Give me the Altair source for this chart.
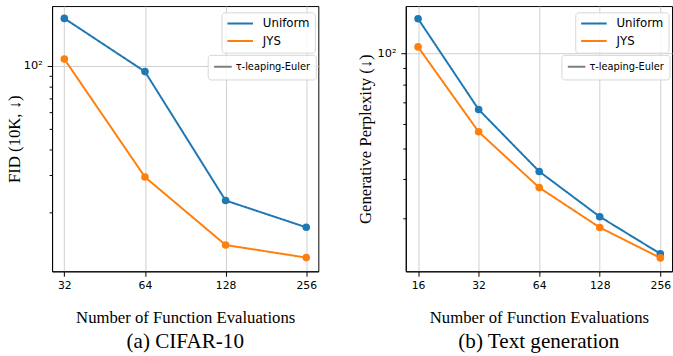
import altair as alt
import pandas as pd

# ---- data ----
schemes = ["Uniform", "JYS"]
scheme_colors = ["#1f77b4", "#ff7f0e"]
method = "τ-leaping-Euler"

cifar_nfe = [32, 64, 128, 256]
cifar_uniform = [169, 94, 22.7, 16.9]
cifar_jys = [108, 29.4, 13.9, 12.1]

text_nfe = [16, 32, 64, 128, 256]
text_uniform = [129, 66.5, 42.3, 30.4, 23.2]
text_jys = [105, 56.5, 37.6, 28.1, 22.5]

cifar_x_domain = [28.8, 284]
cifar_y_domain = [10.4, 193.6]
cifar_y_ticks = [20, 30, 40, 50, 60, 70, 80, 90, 100]

text_x_domain = [13.9, 292.6]
text_y_domain = [20.4, 141.5]
text_y_ticks = [30, 40, 50, 60, 70, 80, 90, 100]


def frame(nfe, uni, jys):
    rows = []
    for s, vals in zip(schemes, [uni, jys]):
        for n, v in zip(nfe, vals):
            rows.append({"nfe": n, "value": v, "scheme": s, "method": method})
    return pd.DataFrame(rows)


def panel(df, x_dom, x_ticks, y_dom, y_ticks, y_title, y_title_pad, caption):
    x = alt.X(
        "nfe:Q",
        scale=alt.Scale(type="log", base=2, domain=x_dom, nice=False),
        axis=alt.Axis(values=x_ticks, format="d", title="Number of Function Evaluations",
                      labelFlush=False, labelPadding=3, titlePadding=20),
    )
    y = alt.Y(
        "value:Q",
        scale=alt.Scale(type="log", domain=y_dom, nice=False),
        axis=alt.Axis(
            values=y_ticks,
            labelExpr="datum.value === 100 ? '10²' : ''",
            gridOpacity={"condition": {"test": "datum.value === 100", "value": 1}, "value": 0},
            tickSize={"condition": {"test": "datum.value === 100", "value": 5}, "value": 3},
            title=y_title,
            labelPadding=5,
            labelFontSize=11.5,
            titlePadding=y_title_pad,
        ),
    )
    color_scale = alt.Scale(domain=schemes, range=scheme_colors)
    color = alt.Color(
        "scheme:N",
        scale=color_scale,
        legend=alt.Legend(
            title=None, orient="none", legendX=172.5, legendY=6.4, symbolType="stroke", symbolSize=676,
            symbolStrokeWidth=2, labelFont="DejaVu Sans", labelFontSize=12, labelColor="black",
            labelOffset=9, padding=5, rowPadding=5, clipHeight=12.5,
            fillColor="rgba(255,255,255,0.85)", strokeColor="#d6d6d6", cornerRadius=3,
        ),
    )
    dash = alt.StrokeDash(
        "method:N",
        scale=alt.Scale(domain=[method], range=[[1, 0]]),
        legend=alt.Legend(
            title=None, orient="none", legendX=158.4, legendY=49.7, symbolType="stroke", symbolSize=320,
            symbolStrokeWidth=2, symbolStrokeColor="#7f7f7f", labelFont="DejaVu Sans",
            labelFontSize=10, labelColor="black", labelOffset=3, padding=5.5, clipHeight=13.3,
            fillColor="rgba(255,255,255,0.85)", strokeColor="#d6d6d6", cornerRadius=3,
        ),
    )
    lines = alt.Chart(df).mark_line(strokeWidth=2).encode(x=x, y=y, color=color, strokeDash=dash)
    points = alt.Chart(df).mark_circle(size=60, opacity=1).encode(
        x=x, y=y, color=alt.Color("scheme:N", scale=color_scale, legend=None)
    )
    return alt.layer(lines, points).properties(
        width=271,
        height=270,
        title=alt.TitleParams(caption, orient="bottom", offset=6),
    )


left = panel(frame(cifar_nfe, cifar_uniform, cifar_jys), cifar_x_domain, cifar_nfe,
             cifar_y_domain, cifar_y_ticks, "FID (10K, ↓)", 0, "(a) CIFAR-10")
right = panel(frame(text_nfe, text_uniform, text_jys), text_x_domain, text_nfe,
              text_y_domain, text_y_ticks, "Generative Perplexity (↓)", 3, "(b) Text generation")

chart = (
    alt.hconcat(left, right, spacing=37)
    .resolve_legend(color="independent", strokeDash="independent")
    .properties(padding={"left": 5, "top": 2, "right": 0, "bottom": 0})
    .configure_view(stroke="black", strokeWidth=1)
    .configure_axis(
        domainColor="black", domainWidth=1, tickColor="black", tickSize=5,
        labelColor="black", titleColor="black", gridColor="#cfcfcf", gridWidth=1,
        labelFont="DejaVu Sans", labelFontSize=11,
        titleFont="Liberation Serif", titleFontSize=17, titleFontWeight="normal",
    )
    .configure_title(font="Liberation Serif", fontSize=21.5, fontWeight="normal", color="black")
)

chart.save("out.html", embed_options={"renderer": "svg", "actions": False})
